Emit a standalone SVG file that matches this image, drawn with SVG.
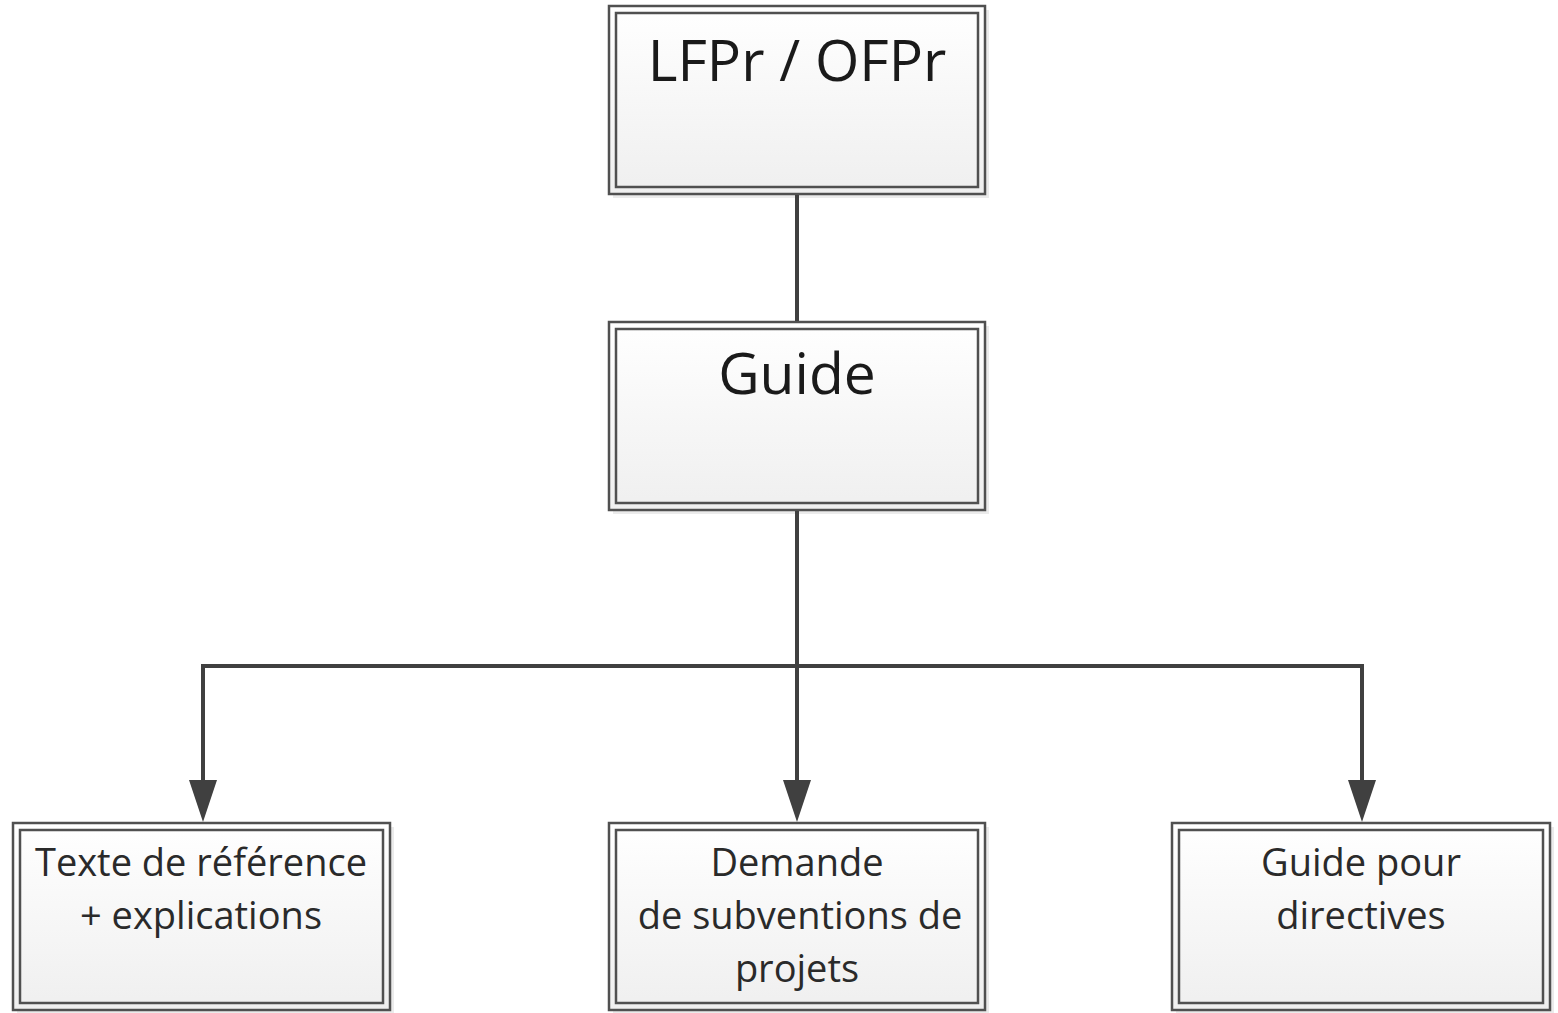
<svg xmlns="http://www.w3.org/2000/svg" width="1558" height="1013" viewBox="0 0 1558 1013">
<style>
.outer{fill:url(#g);stroke:#505050;stroke-width:2.5}
.inner{fill:none;stroke:#505050;stroke-width:2.5}
.sh{fill:#ebebeb}
.t{font-family:"Open Sans","Liberation Sans",sans-serif;fill:#1a1a1a;text-anchor:middle}
.big{font-size:57px}
.sm{font-size:38px;fill:#2a2a2a}
.c{fill:none;stroke:#404040;stroke-width:4}
</style>
<defs>
<linearGradient id="g" x1="0" y1="0" x2="0" y2="1">
<stop offset="0" stop-color="#ffffff"/>
<stop offset="1" stop-color="#efefef"/>
</linearGradient>
</defs>
<g id="node-lfpr">
<rect class="sh" x="613" y="10" width="376" height="188"/>
<rect class="outer" x="609" y="6" width="376" height="188"/>
<rect class="inner" x="616" y="13" width="362" height="174"/>
<text class="t big" x="797" y="81">LFPr / OFPr</text>
</g>
<g id="node-guide">
<rect class="sh" x="613" y="326" width="376" height="188"/>
<rect class="outer" x="609" y="322" width="376" height="188"/>
<rect class="inner" x="616" y="329" width="362" height="174"/>
<text class="t big" x="797" y="394">Guide</text>
</g>
<g id="node-texte">
<rect class="sh" x="17" y="827" width="377" height="188"/>
<rect class="outer" x="13" y="823" width="377" height="187"/>
<rect class="inner" x="20" y="830" width="363" height="173"/>
<text class="t sm" x="201" y="876">Texte de référence</text>
<text class="t sm" x="201" y="929">+ explications</text>
</g>
<g id="node-demande">
<rect class="sh" x="613" y="827" width="376" height="188"/>
<rect class="outer" x="609" y="823" width="376" height="187"/>
<rect class="inner" x="616" y="830" width="362" height="173"/>
<text class="t sm" x="797" y="876">Demande</text>
<text class="t sm" x="800" y="929">de subventions de</text>
<text class="t sm" x="797" y="982">projets</text>
</g>
<g id="node-directives">
<rect class="sh" x="1176" y="827" width="378" height="188"/>
<rect class="outer" x="1172" y="823" width="378" height="187"/>
<rect class="inner" x="1179" y="830" width="364" height="173"/>
<text class="t sm" x="1361" y="876">Guide pour</text>
<text class="t sm" x="1361" y="929">directives</text>
</g>
<g id="connectors">
<line class="c" x1="797" y1="195" x2="797" y2="321"/>
<path class="c" d="M797,511 V780"/>
<path d="M783,780 L811,780 L797,822 Z" fill="#404040"/>
<path class="c" d="M203,780 V666 H1362 V780"/>
<path d="M189,780 L217,780 L203,822 Z" fill="#404040"/>
<path d="M1348,780 L1376,780 L1362,822 Z" fill="#404040"/>
</g>
</svg>
